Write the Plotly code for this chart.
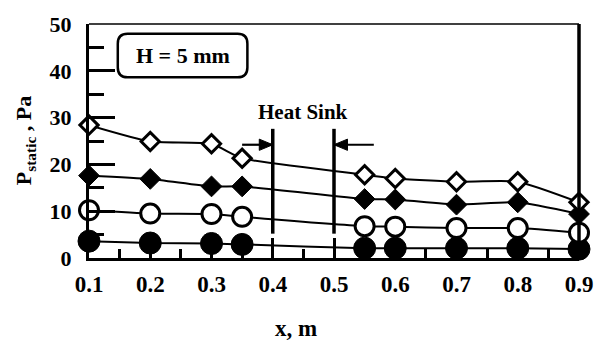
import plotly.graph_objects as go

# ---- data ----
x_pos = [0.1, 0.2, 0.3, 0.35, 0.55, 0.6, 0.7, 0.8, 0.9]
open_diamond = [28.4, 24.9, 24.4, 21.3, 17.8, 17.0, 16.3, 16.3, 11.9]
filled_diamond = [17.6, 16.9, 15.3, 15.3, 12.6, 12.5, 11.4, 11.9, 9.4]
open_circle = [10.2, 9.5, 9.4, 8.8, 6.8, 6.7, 6.4, 6.4, 5.4]
filled_circle = [3.6, 3.2, 3.1, 2.9, 2.1, 2.1, 2.1, 2.1, 1.9]

x_ticks = [0.1, 0.2, 0.3, 0.4, 0.5, 0.6, 0.7, 0.8, 0.9]
x_tick_text = ["0.1", "0.2", "0.3", "0.4", "0.5", "0.6", "0.7", "0.8", "0.9"]
y_ticks = [0, 10, 20, 30, 40, 50]
y_tick_text = ["0", "10", "20", "30", "40", "50"]

heat_sink_start = 0.4
heat_sink_end = 0.5
arrow_level = 24.2
arrow_tail_left = 0.35
arrow_tail_right = 0.565

FONT = "Liberation Serif"

fig = go.Figure()

series = [
    (filled_circle, dict(symbol="circle", size=22, color="black", line=dict(color="black", width=1))),
    (open_circle, dict(symbol="circle", size=19, color="white", line=dict(color="black", width=3))),
    (filled_diamond, dict(symbol="diamond", size=16, color="black", line=dict(color="black", width=1))),
    (open_diamond, dict(symbol="diamond", size=14, color="white", line=dict(color="black", width=3))),
]
for vals, mk in series:
    fig.add_trace(go.Scatter(
        x=x_pos, y=vals, mode="lines+markers",
        line=dict(color="black", width=2, shape="spline", smoothing=0.5),
        marker=mk, cliponaxis=False, showlegend=False,
    ))

# heat sink boundary lines
for xv in [heat_sink_start, heat_sink_end]:
    fig.add_shape(type="line", xref="x", yref="y", x0=xv, x1=xv, y0=5.2, y1=27.6,
                  line=dict(color="black", width=3.5))

# arrows (shaft + filled head)
hl, hh = 0.022, 1.2
for tail, tip, d in [(arrow_tail_left, heat_sink_start, 1), (arrow_tail_right, heat_sink_end, -1)]:
    fig.add_shape(type="line", xref="x", yref="y", x0=tail, x1=tip, y0=arrow_level, y1=arrow_level,
                  line=dict(color="black", width=2.2))
    base = tip - d * hl
    fig.add_shape(type="path", xref="x", yref="y",
                  path=f"M {tip},{arrow_level} L {base},{arrow_level+hh} L {base},{arrow_level-hh} Z",
                  fillcolor="black", line=dict(color="black", width=1))

fig.add_annotation(x=0.45, y=31.1, xref="x", yref="y", text="<b>Heat Sink</b>",
                   showarrow=False, font=dict(family=FONT, size=21, color="black"))

# H = 5 mm rounded box
x0, x1, y0, y1 = 0.147, 0.3586, 38.6, 47.9
rx, ry = 0.016, 2.1
path = (f"M {x0+rx},{y1} L {x1-rx},{y1} Q {x1},{y1} {x1},{y1-ry} "
        f"L {x1},{y0+ry} Q {x1},{y0} {x1-rx},{y0} L {x0+rx},{y0} "
        f"Q {x0},{y0} {x0},{y0+ry} L {x0},{y1-ry} Q {x0},{y1} {x0+rx},{y1} Z")
fig.add_shape(type="path", path=path, xref="x", yref="y", line=dict(color="black", width=2.5))
fig.add_annotation(x=(x0 + x1) / 2, y=(y0 + y1) / 2, xref="x", yref="y",
                   text="<b>H = 5 mm</b>", showarrow=False,
                   font=dict(family=FONT, size=22, color="black"))

# axis titles
fig.add_annotation(x=(297 - 89) / 492, y=-(331 - 258) / 241, xref="paper", yref="paper",
                   text="<b>x, m</b>", showarrow=False, xanchor="center", yanchor="middle",
                   font=dict(family=FONT, size=23, color="black"))
fig.add_annotation(x=(25 - 89) / 492, y=0.5, xref="paper", yref="paper",
                   text="<b>P<sub>static</sub> , Pa</b>", showarrow=False, textangle=-90,
                   xanchor="center", yanchor="middle",
                   font=dict(family=FONT, size=22, color="black"))

# top and right frame
fig.add_shape(type="line", xref="paper", yref="paper", x0=0, x1=1, y0=1, y1=1,
              line=dict(color="black", width=1.5))
fig.add_shape(type="line", xref="paper", yref="paper", x0=1, x1=1, y0=0, y1=1,
              line=dict(color="black", width=3.5))

fig.update_layout(
    width=605, height=347,
    margin=dict(l=89, r=24, t=17, b=89),
    plot_bgcolor="white", paper_bgcolor="white",
    font=dict(family=FONT, color="black"),
    xaxis=dict(range=[0.1, 0.9], showgrid=False, zeroline=False,
               showline=True, linecolor="black", linewidth=3,
               tickvals=x_ticks, ticktext=x_tick_text,
               ticks="inside", ticklen=20, tickwidth=3, tickcolor="black",
               minor=dict(ticks="inside", dtick=0.05, tick0=0.05, ticklen=9, tickwidth=3, tickcolor="black"),
               tickfont=dict(family=FONT, size=23, color="black", weight="bold"),
               ticklabelstandoff=3),
    yaxis=dict(range=[0, 50], showgrid=False, zeroline=False,
               showline=True, linecolor="black", linewidth=3,
               tickvals=y_ticks, ticktext=y_tick_text,
               ticks="inside", ticklen=26, tickwidth=3, tickcolor="black",
               minor=dict(ticks="inside", dtick=5, tick0=0, ticklen=15, tickwidth=3, tickcolor="black"),
               tickfont=dict(family=FONT, size=22, color="black", weight="bold"),
               ticklabelstandoff=10),
)

fig.write_html("out.html")
